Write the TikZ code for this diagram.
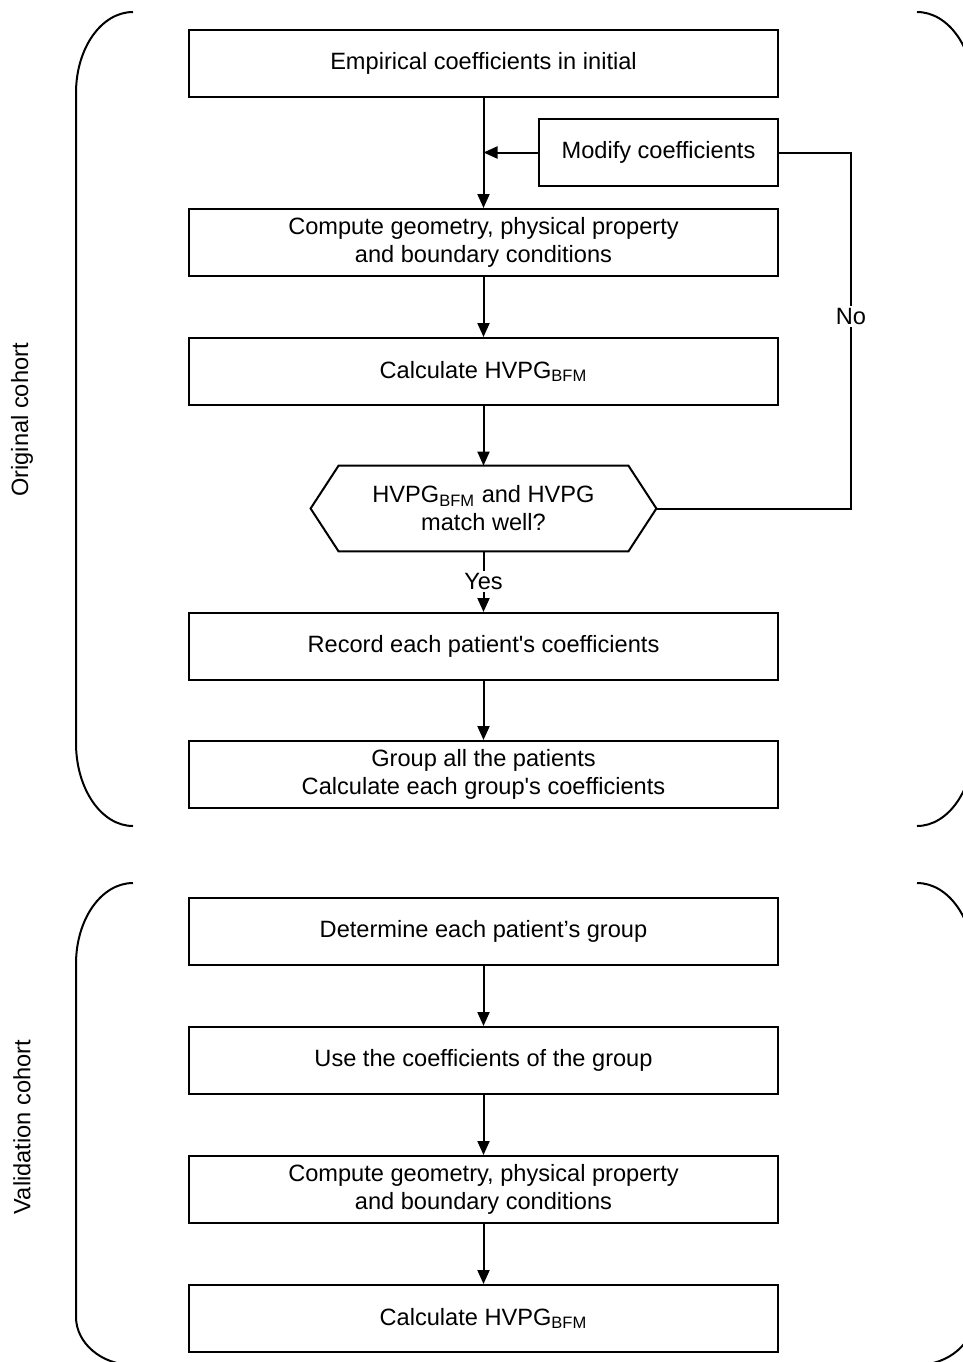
\documentclass[tikz,border=0pt]{standalone}
\usepackage{fontspec}
\setmainfont{Liberation Sans}
\usetikzlibrary{arrows.meta}

\begin{document}
\begin{tikzpicture}
  [x=0.5pt, y=-0.5pt,
    every node/.style={font=\fontsize{11.8}{14}\selectfont, align=center},
    box/.style={draw, line width=1pt, minimum width=294.5pt, minimum height=33.5pt, inner sep=0pt},
    flow/.style={line width=1pt, -{Triangle[length=7pt,width=6pt]}},
    plain/.style={line width=1pt},
    label/.style={fill=white, inner sep=1pt},
]

\useasboundingbox (0,0) rectangle (963,1362);
\clip (0,0) rectangle (963,1362);

\node[box] (emp) at (483.5,63.5) {Empirical coefficients in initial};
\node[box, minimum width=119.5pt] (modify) at (658.5,152.5) {Modify coefficients};
\node[box] (geom) at (483.5,242.5) {Compute geometry, physical property\\and boundary conditions};
\node[box] (calc) at (483.5,371.5) {Calculate HVPG\textsubscript{BFM}};
\node[minimum width=172.5pt, minimum height=42.5pt, inner sep=0pt] (match) at (483.5,508.5)
  {HVPG\textsubscript{BFM} and HVPG\\match well?};
\node[box] (record) at (483.5,646.5) {Record each patient\textquotesingle s coefficients};
\node[box] (group) at (483.5,774.5) {Group all the patients\\Calculate each group\textquotesingle s coefficients};

\node[box] (determine) at (483.5,931.5) {Determine each patient’s group};
\node[box] (usecoef) at (483.5,1060.5) {Use the coefficients of the group};
\node[box] (geomval) at (483.5,1189.5) {Compute geometry, physical property\\and boundary conditions};
\node[box] (calcval) at (483.5,1318.5) {Calculate HVPG\textsubscript{BFM}};

\node[rotate=90] (orig) at (22,420) {Original cohort};
\node[rotate=90] (valid) at (22,1127) {Validation cohort};

\coordinate (noline) at (851,330);

% decision shape
\draw[plain] (match.west) -- ([xshift=14pt]match.north west) -- ([xshift=-14pt]match.north east)
  -- (match.east) -- ([xshift=-14pt]match.south east) -- ([xshift=14pt]match.south west) -- cycle;

\draw[flow] (emp) -- (geom);
\draw[flow] (modify) -- (modify.west -| emp.south);
\draw[flow] (geom) -- (calc);
\draw[flow] (calc) -- (match);
\draw[flow] (match) -- node[label] {Yes} (record);
\draw[flow] (record) -- (group);
\draw[plain] (match.east) -- (match.east -| noline) -- node[label, pos=0.54] {No} (modify.east -| noline) -- (modify.east);

\draw[flow] (determine) -- (usecoef);
\draw[flow] (usecoef) -- (geomval);
\draw[flow] (geomval) -- (calcval);

% cohort brackets
\draw[plain] (133,12) .. controls (101.5,12) and (76,48) .. (76,93) -- (76,743)
  .. controls (76,789) and (101.5,826) .. (133,826);
\draw[plain] (917,12) .. controls (948.5,12) and (974,48) .. (974,93) -- (974,743)
  .. controls (974,789) and (948.5,826) .. (917,826);
\draw[plain] (133,883) .. controls (101.5,883) and (76,919) .. (76,964) -- (76,1317)
  .. controls (76,1343) and (101.5,1365) .. (133,1365);
\draw[plain] (917,883) .. controls (948.5,883) and (974,919) .. (974,964) -- (974,1317)
  .. controls (974,1343) and (948.5,1365) .. (917,1365);
\end{tikzpicture}
\end{document}
